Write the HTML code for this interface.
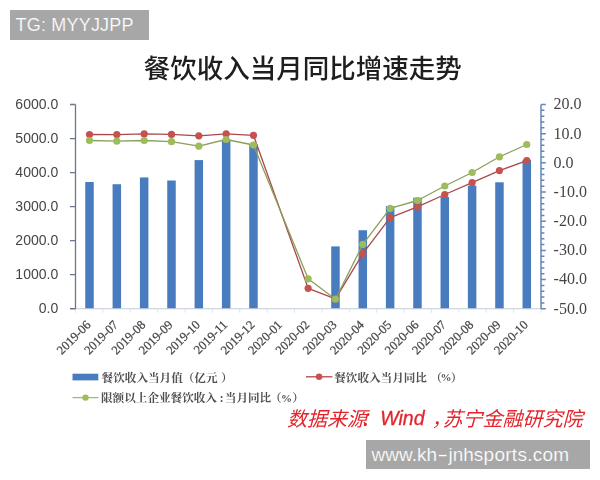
<!DOCTYPE html>
<html lang="zh"><head><meta charset="utf-8"><title>餐饮收入当月同比增速走势</title>
<style>
html,body{margin:0;padding:0;background:#fff}
body{width:600px;height:480px;position:relative;overflow:hidden;font-family:"Liberation Sans",sans-serif}
.tag{position:absolute;left:10px;top:10px;width:139px;height:29.5px;background:#a7a7a7;color:#fff;font-size:18px;line-height:29.5px;white-space:nowrap}
.tag span{position:absolute;left:5.5px;top:1px;letter-spacing:0.2px;-webkit-text-stroke:0.2px #a7a7a7}
.wm{position:absolute;left:366px;top:440.2px;width:223.5px;height:29.3px;background:#a7a7a7;color:#fff;font-size:19px;line-height:29px;white-space:nowrap}
.wm span{position:absolute;left:5.6px;top:-0.3px;-webkit-text-stroke:0.2px #a7a7a7}
.wm b{font-weight:normal;letter-spacing:0.27px}
.wm i{font-style:normal;display:inline-block;width:11.4px;text-align:center;transform:scaleX(1.75)}
</style></head><body>
<svg width="600" height="480" viewBox="0 0 600 480" style="position:absolute;left:0;top:0;filter:blur(0.45px)">
<text x="143.7" y="77.9" font-family="Liberation Sans, Noto Sans CJK SC, sans-serif" font-size="26.5" font-weight="500" fill="#1e1e1e">餐饮收入当月同比增速走势</text>
<g fill="#487cbf">
<rect x="85.25" y="182.01" width="8.5" height="126.74"/>
<rect x="112.58" y="184.23" width="8.5" height="124.52"/>
<rect x="139.91" y="177.45" width="8.5" height="131.30"/>
<rect x="167.24" y="180.52" width="8.5" height="128.23"/>
<rect x="194.57" y="160.09" width="8.5" height="148.66"/>
<rect x="221.90" y="139.77" width="8.5" height="168.98"/>
<rect x="249.23" y="144.50" width="8.5" height="164.25"/>
<rect x="331.22" y="246.39" width="8.5" height="62.36"/>
<rect x="358.55" y="230.22" width="8.5" height="78.53"/>
<rect x="385.88" y="206.18" width="8.5" height="102.57"/>
<rect x="413.21" y="197.71" width="8.5" height="111.04"/>
<rect x="440.54" y="197.03" width="8.5" height="111.72"/>
<rect x="467.87" y="185.55" width="8.5" height="123.20"/>
<rect x="495.20" y="182.29" width="8.5" height="126.46"/>
<rect x="522.53" y="159.92" width="8.5" height="148.83"/>
</g>
<line x1="75.5" y1="308.75" x2="541.0" y2="308.75" stroke="#c3cbd9" stroke-width="1.2"/>
<path d="M75.50,308.75v4M102.88,308.75v4M130.26,308.75v4M157.65,308.75v4M185.03,308.75v4M212.41,308.75v4M239.79,308.75v4M267.18,308.75v4M294.56,308.75v4M321.94,308.75v4M349.32,308.75v4M376.71,308.75v4M404.09,308.75v4M431.47,308.75v4M458.85,308.75v4M486.24,308.75v4M513.62,308.75v4M541.00,308.75v4" stroke="#dde2ea" stroke-width="1" fill="none"/>
<path d="M75.5,104.5V308.75M70.0,308.75H75.5M70.0,274.71H75.5M70.0,240.67H75.5M70.0,206.62H75.5M70.0,172.58H75.5M70.0,138.54H75.5M70.0,104.50H75.5" stroke="#6b758c" stroke-width="1.3" fill="none"/>
<path d="M541.0,104.5V308.75M541.0,308.75h4.8M541.0,302.91h3.4M541.0,297.08h3.4M541.0,291.24h3.4M541.0,285.41h3.4M541.0,279.57h4.8M541.0,273.74h3.4M541.0,267.90h3.4M541.0,262.06h3.4M541.0,256.23h3.4M541.0,250.39h4.8M541.0,244.56h3.4M541.0,238.72h3.4M541.0,232.89h3.4M541.0,227.05h3.4M541.0,221.21h4.8M541.0,215.38h3.4M541.0,209.54h3.4M541.0,203.71h3.4M541.0,197.87h3.4M541.0,192.04h4.8M541.0,186.20h3.4M541.0,180.36h3.4M541.0,174.53h3.4M541.0,168.69h3.4M541.0,162.86h4.8M541.0,157.02h3.4M541.0,151.19h3.4M541.0,145.35h3.4M541.0,139.51h3.4M541.0,133.68h4.8M541.0,127.84h3.4M541.0,122.01h3.4M541.0,116.17h3.4M541.0,110.34h3.4M541.0,104.50h4.8" stroke="#6287b8" stroke-width="1.5" fill="none"/>
<polyline points="89.50,134.50 116.83,134.60 144.16,133.90 171.49,134.40 198.82,135.80 226.15,133.90 253.48,135.30 308.14,288.30 335.47,298.80 362.80,253.60 390.13,217.60 417.46,206.80 444.79,194.50 472.12,182.60 499.45,170.60 526.78,160.60" fill="none" stroke="#a9484c" stroke-width="1.3" stroke-linejoin="round"/>
<g fill="#c5524f">
<circle cx="89.50" cy="134.50" r="3.6"/>
<circle cx="116.83" cy="134.60" r="3.6"/>
<circle cx="144.16" cy="133.90" r="3.6"/>
<circle cx="171.49" cy="134.40" r="3.6"/>
<circle cx="198.82" cy="135.80" r="3.6"/>
<circle cx="226.15" cy="133.90" r="3.6"/>
<circle cx="253.48" cy="135.30" r="3.6"/>
<circle cx="308.14" cy="288.30" r="3.6"/>
<circle cx="335.47" cy="298.80" r="3.6"/>
<circle cx="362.80" cy="253.60" r="3.6"/>
<circle cx="390.13" cy="217.60" r="3.6"/>
<circle cx="417.46" cy="206.80" r="3.6"/>
<circle cx="444.79" cy="194.50" r="3.6"/>
<circle cx="472.12" cy="182.60" r="3.6"/>
<circle cx="499.45" cy="170.60" r="3.6"/>
<circle cx="526.78" cy="160.60" r="3.6"/>
</g>
<polyline points="89.50,140.50 116.83,141.20 144.16,140.50 171.49,141.70 198.82,146.20 226.15,139.50 253.48,145.00 308.14,278.80 335.47,299.20 362.80,244.40 390.13,208.30 417.46,200.50 444.79,186.00 472.12,172.50 499.45,156.80 526.78,144.50" fill="none" stroke="#8c9f5a" stroke-width="1.3" stroke-linejoin="round"/>
<g fill="#9dbc5c">
<circle cx="89.50" cy="140.50" r="3.6"/>
<circle cx="116.83" cy="141.20" r="3.6"/>
<circle cx="144.16" cy="140.50" r="3.6"/>
<circle cx="171.49" cy="141.70" r="3.6"/>
<circle cx="198.82" cy="146.20" r="3.6"/>
<circle cx="226.15" cy="139.50" r="3.6"/>
<circle cx="253.48" cy="145.00" r="3.6"/>
<circle cx="308.14" cy="278.80" r="3.6"/>
<circle cx="335.47" cy="299.20" r="3.6"/>
<circle cx="362.80" cy="244.40" r="3.6"/>
<circle cx="390.13" cy="208.30" r="3.6"/>
<circle cx="417.46" cy="200.50" r="3.6"/>
<circle cx="444.79" cy="186.00" r="3.6"/>
<circle cx="472.12" cy="172.50" r="3.6"/>
<circle cx="499.45" cy="156.80" r="3.6"/>
<circle cx="526.78" cy="144.50" r="3.6"/>
</g>
<g font-family="Liberation Sans, sans-serif" font-size="14" fill="#454545" text-anchor="end">
<text x="58.2" y="313.35">0.0</text>
<text x="58.2" y="279.31">1000.0</text>
<text x="58.2" y="245.27">2000.0</text>
<text x="58.2" y="211.22">3000.0</text>
<text x="58.2" y="177.18">4000.0</text>
<text x="58.2" y="143.14">5000.0</text>
<text x="58.2" y="109.10">6000.0</text>
</g>
<g font-family="Liberation Serif, serif" font-size="16" fill="#454545">
<text x="553.6" y="313.65">-50.0</text>
<text x="553.6" y="284.47">-40.0</text>
<text x="553.6" y="255.29">-30.0</text>
<text x="553.6" y="226.11">-20.0</text>
<text x="553.6" y="196.94">-10.0</text>
<text x="553.6" y="167.76">0.0</text>
<text x="553.6" y="138.58">10.0</text>
<text x="553.6" y="109.40">20.0</text>
</g>
<g font-family="Liberation Serif, serif" font-size="12.6" fill="#454545" stroke="#454545" stroke-width="0.25" text-anchor="end">
<text transform="translate(91.50,325.50) rotate(-45)" x="0" y="0">2019-06</text>
<text transform="translate(118.83,325.50) rotate(-45)" x="0" y="0">2019-07</text>
<text transform="translate(146.16,325.50) rotate(-45)" x="0" y="0">2019-08</text>
<text transform="translate(173.49,325.50) rotate(-45)" x="0" y="0">2019-09</text>
<text transform="translate(200.82,325.50) rotate(-45)" x="0" y="0">2019-10</text>
<text transform="translate(228.15,325.50) rotate(-45)" x="0" y="0">2019-11</text>
<text transform="translate(255.48,325.50) rotate(-45)" x="0" y="0">2019-12</text>
<text transform="translate(282.81,325.50) rotate(-45)" x="0" y="0">2020-01</text>
<text transform="translate(310.14,325.50) rotate(-45)" x="0" y="0">2020-02</text>
<text transform="translate(337.47,325.50) rotate(-45)" x="0" y="0">2020-03</text>
<text transform="translate(364.80,325.50) rotate(-45)" x="0" y="0">2020-04</text>
<text transform="translate(392.13,325.50) rotate(-45)" x="0" y="0">2020-05</text>
<text transform="translate(419.46,325.50) rotate(-45)" x="0" y="0">2020-06</text>
<text transform="translate(446.79,325.50) rotate(-45)" x="0" y="0">2020-07</text>
<text transform="translate(474.12,325.50) rotate(-45)" x="0" y="0">2020-08</text>
<text transform="translate(501.45,325.50) rotate(-45)" x="0" y="0">2020-09</text>
<text transform="translate(528.78,325.50) rotate(-45)" x="0" y="0">2020-10</text>
</g>
<rect x="72.5" y="373.7" width="25.8" height="6.7" fill="#487cbf"/>
<g font-family="Liberation Serif, Noto Serif CJK SC, serif" font-weight="bold" font-size="11.6" fill="#505050">
<text x="101.6" y="381.6">餐饮收入当月值（亿元</text>
<text x="221.1" y="381.6">）</text>
<text x="334.2" y="381.6">餐饮收入当月同比</text>
<text x="430.4" y="381.6">（</text>
<text x="450.8" y="381.6">）</text>
<text x="101.0" y="402.2">限额以上企业餐饮收入</text>
<text x="224.8" y="402.2">当月同比</text>
<text x="269.88" y="402.2">（</text>
<text x="292.2" y="402.2">）</text>
</g>
<line x1="306" y1="376.8" x2="332.4" y2="376.8" stroke="#a9484c" stroke-width="1.3"/><circle cx="319.1" cy="376.8" r="3.2" fill="#c5524f"/>
<text x="440.6" y="381.2" font-family="Liberation Serif, serif" font-weight="bold" font-size="11" fill="#505050">%</text>
<line x1="72.5" y1="397.6" x2="98.5" y2="397.6" stroke="#a3b878" stroke-width="1.3"/><circle cx="85.5" cy="397.6" r="3.2" fill="#9dbc5c"/>
<text x="219.8" y="401.6" font-family="Liberation Serif, serif" font-weight="bold" font-size="11.5" fill="#505050">:</text>
<text x="281.0" y="401.8" font-family="Liberation Serif, serif" font-weight="bold" font-size="11" fill="#505050">%</text>
<g font-family="Liberation Sans, Noto Sans CJK SC, sans-serif" font-size="20" fill="#e3242b">
<text transform="translate(286.90,426.20) skewX(-15)" x="0" y="0">数据来源</text>
<text transform="translate(359.90,426.20) skewX(-15)" x="0" y="0">：</text>
<text transform="translate(431.40,426.20) skewX(-15)" x="0" y="0">，</text>
<text transform="translate(442.60,426.20) skewX(-15)" x="0" y="0">苏宁金融研究院</text>
</g>
<text x="380.2" y="425.2" font-family="Liberation Sans, sans-serif" font-style="italic" font-size="19.6" fill="#e3242b" stroke="#e3242b" stroke-width="0.3">Wind</text>
</svg>
<div class="tag"><span>TG: MYYJJPP</span></div>
<div class="wm"><span>www.kh<i>-</i>jnh<b>sports.com</b></span></div>
</body></html>
